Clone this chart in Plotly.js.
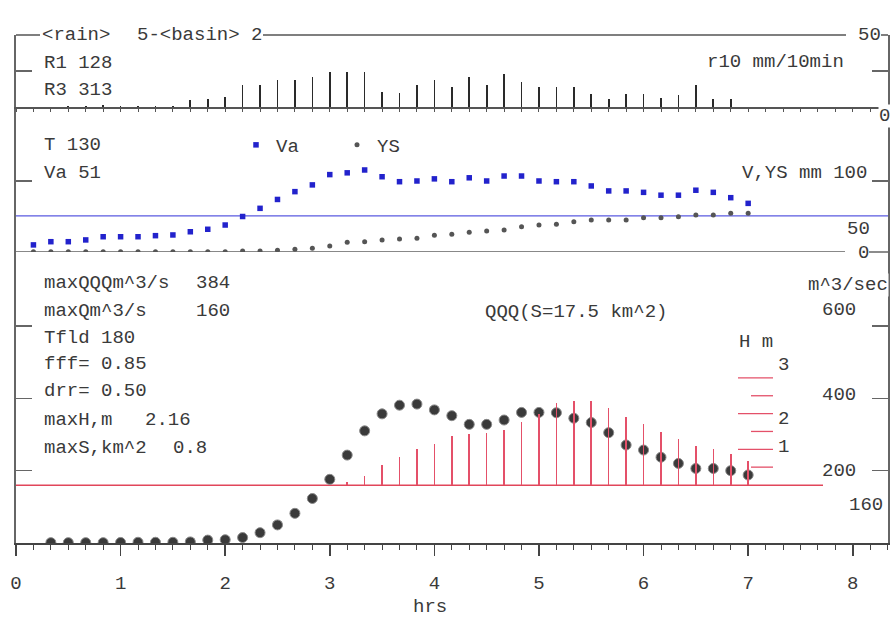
<!DOCTYPE html>
<html>
<head>
<meta charset="utf-8">
<script src="https://cdn.plot.ly/plotly-3.0.1.min.js"></script>
<style>html,body{margin:0;padding:0;background:#fff;}#chart{width:891px;height:621px;}</style>
</head>
<body>
<div id="chart"></div>
<script>
// ---------------- data (time in minutes, 10-min steps) ----------------
const TIME_MIN = [10,20,30,40,50,60,70,80,90,100,110,120,130,140,150,160,170,180,190,200,210,
                  220,230,240,250,260,270,280,290,300,310,320,330,340,350,360,370,380,390,400,410,420];
// rain r10 (mm/10min)
const RAIN = [0,0,1,1,1.5,1,0.5,0.5,0.5,4.8,5.8,7,15,15.5,18.5,18.5,21,24.5,24.5,24.5,10.5,
              9.5,15,18.5,14,20.5,15,23,17.5,14,14,14,9.3,5.8,9.3,9.3,6.3,8.6,15,5.8,5.8,0];
// Va (mm)
const VA = [10,14.5,14.5,17,21.5,21.5,21.5,23,24,28.5,32,38,50,61.5,74,85,94.5,109,111.5,115.5,106,
            99,100,103,99,104.5,100,107,107,100,99,99,93,86,86,84,80,80,87,84,76.5,68.5];
// YS (mm)
const YS = [0.5,0.5,0.5,0.5,0.5,0.5,0.5,0.5,0.5,0.5,0.5,0.5,1.4,1.4,2.5,3.7,5.2,8.5,13.6,14.5,17,
            18.3,19.5,23.5,25,27.7,29.6,31,35.7,38,39,42.7,45,45,45,48.4,48.4,49.8,52,52,54.5,54.5];
// QQQ (m^3/s)
const TIME_Q_MIN = [20,30,40,50,60,70,80,90,100,110,120,130,140,150,160,170,180,190,200,210,
                    220,230,240,250,260,270,280,290,300,310,320,330,340,350,360,370,380,390,400,410,420];
const QQQ = [1,1,1,1,1.5,2,2,2,3,8,9,15,28.5,50,82,123,176,243,310,357,
             381,384,368,352,328,328,340,361,361,360,345,333,305,271,257,237,220,206,206,200,188];
// H (m)
const TIME_H_MIN = [190,200,210,220,230,240,250,260,270,280,290,300,310,320,330,340,350,360,370,380,390,400,410,420];
const H = [0.09,0.26,0.56,0.78,1.01,1.15,1.36,1.43,1.46,1.53,1.76,2.0,2.3,2.35,2.35,2.15,1.9,1.72,1.48,1.3,1.1,1.0,0.87,0.68];

const X_TICKS = [0,1,2,3,4,5,6,7,8];
const X_TICK_TEXT = ['0','1','2','3','4','5','6','7','8'];
const MAXQ = 160;      // maxQ m^3/s line
const VA_LINE = 51;    // Va line
const H_SCALE = [0.5,1,1.5,2,2.5,3];

const toH = a => a.map(m => m / 60);

// ---------------- geometry helpers (pixel -> paper) ----------------
const L = 16, R = 888, T = 35, B = 543;
const W = R - L, HT = B - T;
const px = x => (x - L) / W;
const py = y => (B - y) / HT;
const D1 = py(252), D2 = py(107);

const FONT = 'Liberation Mono, DejaVu Sans Mono, monospace';
const TXT = '#3a3a3a';

function A(text, x, y, anchor, extra) {
  return Object.assign({
    text: text, x: px(x), y: py(y), xref: 'paper', yref: 'paper',
    xanchor: anchor || 'left', yanchor: 'middle', showarrow: false,
    font: {family: FONT, size: 19, color: TXT}, borderpad: 0
  }, extra || {});
}
function seg(x0, y0, x1, y1, color, width, layer) {
  return {type: 'line', xref: 'paper', yref: 'paper', x0: px(x0), x1: px(x1), y0: py(y0), y1: py(y1),
          line: {color: color, width: width}, layer: layer || 'above'};
}

const traces = [
  {type: 'bar', x: toH(TIME_MIN), y: RAIN, xaxis: 'x2', yaxis: 'y3', width: 0.016,
   marker: {color: '#2a2a2a', line: {width: 0}}, showlegend: false, hoverinfo: 'skip'},
  {type: 'scatter', mode: 'markers', name: 'Va', x: toH(TIME_MIN), y: VA, xaxis: 'x', yaxis: 'y2',
   marker: {symbol: 'square', size: 5.5, color: '#2222cc'}, showlegend: true},
  {type: 'scatter', mode: 'markers', name: 'YS', x: toH(TIME_MIN), y: YS, xaxis: 'x', yaxis: 'y2',
   marker: {symbol: 'circle', size: 5, color: '#555555'}, showlegend: true},
  {type: 'bar', x: toH(TIME_H_MIN), y: H, xaxis: 'x', yaxis: 'y4', width: 0.015,
   marker: {color: 'rgb(228,80,105)', line: {width: 0}}, showlegend: false},
  {type: 'scatter', mode: 'markers', x: toH(TIME_Q_MIN), y: QQQ, xaxis: 'x', yaxis: 'y',
   marker: {symbol: 'circle', size: 10, color: '#3a3a3a', line: {color: '#8a8a8a', width: 1}}, showlegend: false}
];

const yCommon = {showline: true, mirror: 'ticks', linecolor: '#666', linewidth: 2, ticks: 'inside',
                 ticklen: 16, tickcolor: '#666', tickwidth: 1.5, showticklabels: false,
                 showgrid: false, zeroline: false, fixedrange: true};

const shapes = [
  seg(16, 35, 40, 35, '#555', 1.5),
  seg(263, 35, 846, 35, '#555', 1.5),
  seg(881, 35, 888, 35, '#555', 1.5),
  // middle-panel zero line
  {type: 'line', xref: 'paper', yref: 'y2', x0: 0, x1: px(845), y0: 0, y1: 0, line: {color: '#888', width: 2}, layer: 'below'},
  seg(869, 252, 888, 252, '#666', 1.5),
  // Va line
  {type: 'line', xref: 'paper', yref: 'y2', x0: 0, x1: 1, y0: VA_LINE, y1: VA_LINE, line: {color: '#5a5ae0', width: 1.2}, layer: 'below'},
  // maxQ line
  {type: 'line', xref: 'paper', yref: 'y', x0: 0, x1: px(823), y0: MAXQ, y1: MAXQ, line: {color: 'rgb(225,70,90)', width: 1.5}, layer: 'below'}
];
// H scale marks
H_SCALE.forEach(v => {
  const isInt = Number.isInteger(v);
  shapes.push({type: 'line', xref: 'paper', yref: 'y4', x0: px(isInt ? 738 : 751), x1: px(773), y0: v, y1: v,
               line: {color: 'rgb(228,80,105)', width: 1.3}});
});

const annotations = [
  A('&lt;rain&gt;', 41, 35), A('5-&lt;basin&gt; 2', 136, 35),
  A('R1 128', 43, 63), A('R3 313', 43, 90),
  A('r10 mm/10min', 706, 62),
  A('50', 857, 35),
  A('0', 884, 116, 'center', {bgcolor: '#fff'}),
  A('T 130', 43, 145), A('Va 51', 43, 173),
  A('V,YS mm 100', 741, 173),
  A('50', 846, 229),
  A('0', 857, 253),
  A('maxQQQm^3/s', 43, 283), A('384', 195, 283),
  A('maxQm^3/s', 43, 311), A('160', 195, 311),
  A('Tfld 180', 43, 338),
  A('fff= 0.85', 43, 364),
  A('drr= 0.50', 43, 391),
  A('maxH,m', 43, 420), A('2.16', 144, 420),
  A('maxS,km^2', 43, 448), A('0.8', 172, 448),
  A('QQQ(S=17.5 km^2)', 484, 312),
  A('m^3/sec', 807, 285, 'left', {bgcolor: '#fff'}),
  A('600', 821, 310), A('400', 821, 395), A('200', 821, 471),
  A('160', 848, 505, 'left', {bgcolor: '#fff'}),
  A('H m', 738, 342),
  A('3', 777, 365), A('2', 777, 419), A('1', 777, 447),
  A('hrs', 430, 607, 'center')
];

const layout = {
  width: 891, height: 621,
  margin: {l: L, r: 891 - R, t: T, b: 621 - B, pad: 0},
  paper_bgcolor: '#fff', plot_bgcolor: '#fff',
  font: {family: FONT, size: 19, color: TXT},
  barmode: 'overlay', bargap: 0,
  showlegend: true,
  legend: {orientation: 'h', x: px(236), y: py(145), xanchor: 'left', yanchor: 'middle',
           bgcolor: 'rgba(0,0,0,0)', borderwidth: 0, font: {family: FONT, size: 19, color: TXT},
           entrywidth: 56, entrywidthmode: 'pixels', itemclick: false},
  xaxis: {domain: [0, 1], range: [0, 8.337], anchor: 'y', showline: true, linecolor: '#444', linewidth: 2,
          ticks: 'outside', ticklen: 11, tickwidth: 1.5, tickcolor: '#444',
          tickvals: X_TICKS, ticktext: X_TICK_TEXT, ticklabelstandoff: 10,
          tickfont: {family: FONT, size: 19, color: TXT},
          minor: {dtick: 1/6, tick0: 0, ticks: 'outside', ticklen: 5, tickcolor: '#444', tickwidth: 1, showgrid: false},
          showgrid: false, zeroline: false, fixedrange: true},
  xaxis2: {matches: 'x', anchor: 'y3', showline: true, linecolor: '#555', linewidth: 2,
           ticks: 'outside', ticklen: 3, tickcolor: '#555', dtick: 1/6, tick0: 0,
           showticklabels: false, showgrid: false, zeroline: false},
  yaxis: Object.assign({}, yCommon, {domain: [0, D1], range: [0, 804.5], anchor: 'x', tickvals: [200, 400, 600]}),
  yaxis2: Object.assign({}, yCommon, {domain: [D1, D2], range: [0, 204.2], anchor: 'x', tickvals: [100]}),
  yaxis3: Object.assign({}, yCommon, {domain: [D2, 1], range: [0, 50], anchor: 'x2', tickvals: [25]}),
  yaxis4: {overlaying: 'y', range: [-1.625, 6.527], anchor: 'x', visible: false, fixedrange: true},
  shapes: shapes,
  annotations: annotations
};

Plotly.newPlot('chart', traces, layout, {displayModeBar: false, staticPlot: true});
</script>
</body>
</html>
